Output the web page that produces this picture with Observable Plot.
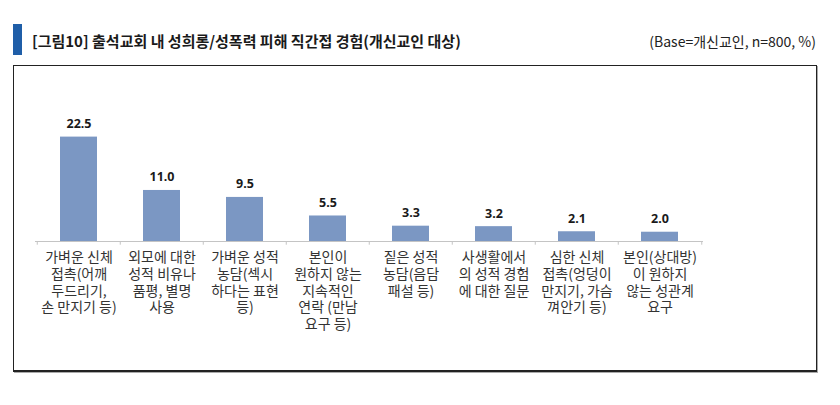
<!DOCTYPE html>
<html>
<head>
<meta charset="utf-8">
<script src="https://cdn.jsdelivr.net/npm/d3@7"></script>
<script src="https://cdn.jsdelivr.net/npm/@observablehq/plot@0.6"></script>
<style>
  html, body { margin: 0; padding: 0; background: #fff; }
  body { width: 840px; height: 405px; position: relative; overflow: hidden; font-family: "Noto Sans CJK KR", "Noto Sans", sans-serif; }
  #marker { position: absolute; left: 13px; top: 24px; width: 9px; height: 31px; background: #1f5ea8; }
  #title { position: absolute; left: 32px; top: 30px; font-size: 15px; font-weight: bold; color: #1a1a1a; white-space: nowrap; }
  #base { position: absolute; right: 24px; top: 31px; font-size: 14px; color: #222; white-space: nowrap; }
  #box { position: absolute; left: 13px; top: 65px; width: 802px; height: 304px; border: 1.5px solid #222; border-bottom-width: 2px; box-shadow: 1px 1px 0 #aaa; }
  #chart { position: absolute; left: 0; top: 0; }
</style>
</head>
<body>
<div id="marker"></div>
<div id="title">[그림10] 출석교회 내 성희롱/성폭력 피해 직간접 경험(개신교인 대상)</div>
<div id="base">(Base=개신교인, n=800, %)</div>
<div id="box"><div id="chart"></div></div>
<script>
const categories = [
  "가벼운 신체\n접촉(어깨\n두드리기,\n손 만지기 등)",
  "외모에 대한\n성적 비유나\n품평, 별명\n사용",
  "가벼운 성적\n농담(섹시\n하다는 표현\n등)",
  "본인이\n원하지 않는\n지속적인\n연락 (만남\n요구 등)",
  "짙은 성적\n농담(음담\n패설 등)",
  "사생활에서\n의 성적 경험\n에 대한 질문",
  "심한 신체\n접촉(엉덩이\n만지기, 가슴\n껴안기 등)",
  "본인(상대방)\n이 원하지\n않는 성관계\n요구"
];
const values = [22.5, 11.0, 9.5, 5.5, 3.3, 3.2, 2.1, 2.0];

const data = categories.map((c, i) => ({category: c, value: values[i]}));

const W = 802, H = 304, ML = 21, MR = 113;
const step = (W - ML - MR) / categories.length;

const chart = Plot.plot({
  width: W,
  height: H,
  marginLeft: ML,
  marginRight: MR,
  marginTop: 59,
  marginBottom: 129,
  style: { background: "transparent", overflow: "visible" },
  x: { domain: categories, paddingInner: 0.556, paddingOuter: 0.278, axis: null },
  y: { domain: [0, 25], axis: null },
  marks: [
    Plot.barY(data, { x: "category", y: "value", fill: "#7b97c3" }),
    Plot.ruleY([0], { stroke: "#c4c4c4", strokeWidth: 1 }),
    Plot.ruleX(categories, { x: d => d, dx: -step / 2, y1: 0, y2: -0.8, stroke: "#c4c4c4" }),
    Plot.ruleX([categories[categories.length - 1]], { x: d => d, dx: step / 2, y1: 0, y2: -0.8, stroke: "#c4c4c4" }),
    Plot.text(data, {
      x: "category", y: "value", text: d => d3.format(".1f")(d.value),
      lineAnchor: "bottom", dy: -9, fontSize: 12.5, fontWeight: "bold",
      fill: "#1a1a1a", fontFamily: "Noto Sans, sans-serif"
    }),
    Plot.text(data, {
      x: "category", y: 0, text: "category",
      lineAnchor: "top", dy: 9, fontSize: 14, lineHeight: 1.19,
      fill: "#333", fontFamily: "Noto Sans CJK KR, sans-serif"
    })
  ]
});
document.getElementById("chart").appendChild(chart);
</script>
</body>
</html>
